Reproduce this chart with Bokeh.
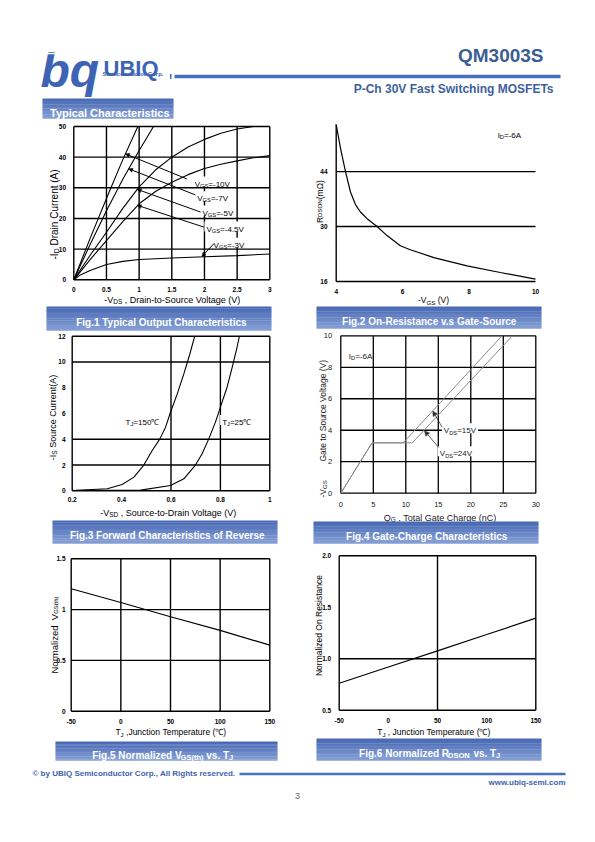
import math
from bokeh.plotting import figure
from bokeh.models import Range1d, Arrow, NormalHead
from bokeh.embed import file_html
from bokeh.resources import INLINE
from bokeh.core.properties import value

# ================= chart data =================
# Fig.1 Typical output characteristics: -VDS (V) -> -ID (A)
fig1_vds_10v = [0, 0.25, 0.5, 0.75, 0.98]
fig1_id_10v = [0, 13.5, 26.5, 39.2, 50.0]
fig1_vds_7v = [0, 0.25, 0.5, 0.75, 1.0, 1.22]
fig1_id_7v = [0, 11.5, 22.5, 32.8, 42.2, 50.0]
fig1_vds_5v = [0, 0.25, 0.5, 0.75, 1.0, 1.25, 1.5, 1.75, 2.0, 2.25, 2.5, 2.75]
fig1_id_5v = [0, 8.0, 15.5, 23.3, 30.3, 35.8, 40.0, 43.3, 45.8, 47.8, 49.2, 50.0]
fig1_vds_45v = [0, 0.25, 0.5, 0.75, 1.0, 1.25, 1.5, 1.75, 2.0, 2.25, 2.5, 2.75, 3.0]
fig1_id_45v = [0, 6.6, 12.8, 19.0, 24.8, 28.8, 31.8, 34.3, 36.3, 37.7, 38.8, 39.8, 40.5]
fig1_vds_3v = [0, 0.1, 0.25, 0.5, 0.75, 1.0, 1.5, 2.0, 2.5, 3.0]
fig1_id_3v = [0, 1.6, 3.0, 5.0, 6.0, 6.6, 7.1, 7.5, 7.9, 8.4]
fig1_label_vgs = ["=-10V", "=-7V", "=-5V", "=-4.5V", "=-3V"]
fig1_label_x = [1.85, 1.89, 1.97, 2.03, 2.14]
fig1_label_y = [32.1, 27.3, 22.6, 17.4, 12.1]
fig1_ptr_x0 = [1.73, 1.86, 1.94, 1.99, 2.14]
fig1_ptr_y0 = [32.9, 27.7, 22.1, 17.2, 11.7]
fig1_ptr_x1 = [0.79, 0.84, 0.97, 0.97, 1.96]
fig1_ptr_y1 = [41.1, 36.2, 29.5, 24.3, 7.6]
fig1_xticks = [0, 0.5, 1, 1.5, 2, 2.5, 3]
fig1_xlabels = ["0", "0.5", "1", "1.5", "2", "2.5", "3"]
fig1_yticks = [0, 10, 20, 30, 40, 50]
fig1_ylabels = ["0", "10", "20", "30", "40", "50"]

# Fig.2 On-resistance vs gate-source voltage: -VGS (V) -> RDSON (mOhm)
fig2_vgs = [4.0, 4.13, 4.28, 4.43, 4.58, 4.73, 4.93, 5.23, 5.53, 5.93, 6.23, 6.94, 7.94, 8.94, 10.0]
fig2_rdson = [56.0, 49.9, 44.0, 38.8, 35.6, 33.7, 32.0, 30.0, 27.7, 25.1, 24.1, 22.1, 20.0, 18.3, 16.6]
fig2_note_x = 8.86
fig2_note_y = 54.0
fig2_xticks = [4, 6, 8, 10]
fig2_xlabels = ["4", "6", "8", "10"]
fig2_yticks = [16, 30, 44]
fig2_ylabels = ["16", "30", "44"]

# Fig.3 Forward characteristics of reverse diode: -VSD (V) -> -IS (A)
fig3_vsd_150c = [0.2, 0.342, 0.402, 0.45, 0.49, 0.524, 0.555, 0.578, 0.598, 0.625, 0.652, 0.676, 0.696]
fig3_is_150c = [0.02, 0.16, 0.49, 1.06, 2.0, 3.13, 4.03, 4.94, 6.1, 7.5, 9.07, 10.6, 12.0]
fig3_vsd_25c = [0.2, 0.477, 0.598, 0.652, 0.699, 0.726, 0.753, 0.78, 0.8, 0.827, 0.848, 0.868, 0.877]
fig3_is_25c = [0.02, 0.05, 0.41, 0.93, 2.0, 2.87, 4.03, 5.33, 6.5, 8.04, 9.6, 11.2, 12.0]
fig3_label_tj = ["=150\u2103", "=25\u2103"]
fig3_label_x = [0.416, 0.807]
fig3_label_y = [5.5, 5.5]
fig3_xticks = [0.2, 0.4, 0.6, 0.8, 1.0]
fig3_xlabels = ["0.2", "0.4", "0.6", "0.8", "1"]
fig3_yticks = [0, 2, 4, 6, 8, 10, 12]
fig3_ylabels = ["0", "2", "4", "6", "8", "10", "12"]

# Fig.4 Gate charge: QG (nC) -> -VGS (V)
fig4_qg_15v = [0, 4.8, 9.6, 24.8]
fig4_vgs_15v = [0, 3.2, 3.2, 10.0]
fig4_qg_24v = [0, 4.8, 11.0, 26.4]
fig4_vgs_24v = [0, 3.2, 3.2, 10.0]
fig4_label_vds = ["=15V", "=24V"]
fig4_label_x = [15.85, 15.23]
fig4_label_y = [4.13, 2.67]
fig4_ptr_x0 = [15.6, 15.08]
fig4_ptr_y0 = [4.19, 2.9]
fig4_ptr_x1 = [14.15, 12.87]
fig4_ptr_y1 = [5.22, 3.96]
fig4_note_x = 1.23
fig4_note_y = 8.86
fig4_xticks = [0, 5, 10, 15, 20, 25, 30]
fig4_xlabels = ["0", "5", "10", "15", "20", "25", "30"]
fig4_yticks = [0, 2, 4, 6, 8, 10]
fig4_ylabels = ["0", "2", "4", "6", "8", "10"]

# Fig.5 Normalized VGS(th) vs TJ
fig5_tj = [-50, 0, 50, 100, 150]
fig5_vth = [1.205, 1.07, 0.93, 0.795, 0.65]
fig5_xticks = [-50, 0, 50, 100, 150]
fig5_xlabels = ["-50", "0", "50", "100", "150"]
fig5_yticks = [0, 0.5, 1.0, 1.5]
fig5_ylabels = ["0", "0.5", "1", "1.5"]

# Fig.6 Normalized RDSON vs TJ
fig6_tj = [-50, 0, 50, 100, 150]
fig6_rdson = [0.762, 0.92, 1.077, 1.235, 1.394]
fig6_xticks = [-50, 0, 50, 100, 150]
fig6_xlabels = ["-50", "0", "50", "100", "150"]
fig6_yticks = [0.5, 1.0, 1.5, 2.0]
fig6_ylabels = ["0.5", "1.0", "1.5", "2.0"]

# ================= page setup =================
MARGIN = 0          # Bokeh's page template removes the body margin
W, H = 595, 830
FONT = "Liberation Sans"
BLUE = "#4a6fbe"
TXTBLUE = "#3d5f9e"
NB = "\u00a0"

p = figure(width=W, height=H, x_range=Range1d(MARGIN, MARGIN + W),
           y_range=Range1d(-(MARGIN + H), -MARGIN),
           output_backend="svg", toolbar_location=None,
           x_axis_location=None, y_axis_location=None, min_border=0)
p.outline_line_color = None
p.grid.visible = False
p.background_fill_color = "white"
p.border_fill_color = "white"


def Y(py):
    return -py


scales = {None: (1.0, 1.0)}


def add_chart(name, box, xr, yr):
    l, t, r, b = box
    kx = (r - l) / (xr[1] - xr[0])
    ky = (b - t) / (yr[1] - yr[0])
    xs = xr[0] - (l - MARGIN) / kx
    ys = yr[0] - ((MARGIN + H) - b) / ky
    p.extra_x_ranges[name] = Range1d(xs, xs + W / kx)
    p.extra_y_ranges[name] = Range1d(ys, ys + H / ky)
    scales[name] = (kx, ky)


def rk(name):
    return {} if name is None else dict(x_range_name=name, y_range_name=name)


_CW = {' ': .278, NB: .278, '-': .333, '=': .584, '(': .333, ')': .333, ',': .278, '.': .278,
       '\u2103': 1.0, '\u03a9': .768}
for c in "0123456789":
    _CW[c] = .556
_CW.update(dict(A=.667, B=.667, C=.722, D=.722, E=.667, F=.611, G=.778, H=.722, I=.278,
                J=.5, K=.667, L=.556, M=.833, N=.722, O=.778, P=.667, Q=.778, R=.722,
                S=.667, T=.611, U=.722, V=.667, W=.944, X=.667, Y=.667, Z=.611))
_CW.update(dict(a=.556, b=.556, c=.5, d=.556, e=.556, f=.278, g=.556, h=.556, i=.222,
                j=.222, k=.5, l=.222, m=.833, n=.556, o=.556, p=.556, q=.556, r=.333,
                s=.5, t=.278, u=.556, v=.5, w=.722, x=.5, y=.5, z=.5))


def tw(s, size, bold=False):
    return sum(_CW.get(c, .556) for c in s) * size * (1.04 if bold else 1.0)


def txt(x, y, s, size, name=None, align="left", baseline="middle", color="black",
        style="normal", angle=0.0, font=FONT):
    p.text(x=[x], y=[y], text=[s], text_font=value(font), text_font_size=f"{size}px",
           text_align=align, text_baseline=baseline, text_color=color,
           text_font_style=style, angle=angle, **rk(name))


def rich(parts, x, y, size, name=None, align="left", vertical=False, color="black",
         bold=False, bg=False, sub_scale=0.72, sub_drop=0.2):
    parts = [(t.replace(" ", NB), k) for t, k in parts]
    kx, ky = scales[name]
    sizes = [size * (sub_scale if k else 1.0) for _, k in parts]
    widths = [tw(t, s, bold) for (t, _), s in zip(parts, sizes)]
    total = sum(widths)
    pos = {"left": 0.0, "center": -total / 2.0, "right": -total}[align]
    if bg:
        p.quad(left=[x + (pos - 2) / kx], right=[x + (pos + total + 2) / kx],
               top=[y + 0.62 * size / ky], bottom=[y - 0.62 * size / ky],
               fill_color="white", line_color=None, **rk(name))
    style = "bold" if bold else "normal"
    for (t, k), s, w in zip(parts, sizes, widths):
        drop = 0.35 * size + (sub_drop * size if k == 1 else 0.0)
        if vertical:
            px, py, ang = x + drop / kx, y + pos / ky, math.pi / 2
        else:
            px, py, ang = x + pos / kx, y - drop / ky, 0.0
        txt(px, py, t, s, name, "left", "alphabetic", color, style, ang)
        pos += w


def banner(box, parts, cx, cy, size):
    l, t, r, b = box
    n = 14
    c0, c1 = (72, 105, 180), (132, 158, 213)
    lefts, rights, tops, bots, cols = [], [], [], [], []
    for i in range(n):
        f = i / (n - 1)
        col = tuple(int(round(c0[j] + (c1[j] - c0[j]) * f)) for j in range(3))
        lefts.append(l)
        rights.append(r)
        tops.append(Y(t + (b - t) * i / n))
        bots.append(Y(t + (b - t) * (i + 1) / n) - 0.3)
        cols.append("#%02x%02x%02x" % col)
    p.quad(left=lefts, right=rights, top=tops, bottom=bots, fill_color=cols, line_color=None)
    rich(parts, cx, Y(cy), size, None, "center", color="white", bold=True, sub_scale=0.75)


def chart_lines(name, xr, yr, vgrid, hgrid, sides="lbtr", lw=1.3, color="black"):
    x0s, y0s, x1s, y1s = [], [], [], []
    for v in vgrid:
        x0s.append(v); y0s.append(yr[0]); x1s.append(v); y1s.append(yr[1])
    for h in hgrid:
        x0s.append(xr[0]); y0s.append(h); x1s.append(xr[1]); y1s.append(h)
    if "l" in sides:
        x0s.append(xr[0]); y0s.append(yr[0]); x1s.append(xr[0]); y1s.append(yr[1])
    if "r" in sides:
        x0s.append(xr[1]); y0s.append(yr[0]); x1s.append(xr[1]); y1s.append(yr[1])
    if "b" in sides:
        x0s.append(xr[0]); y0s.append(yr[0]); x1s.append(xr[1]); y1s.append(yr[0])
    if "t" in sides:
        x0s.append(xr[0]); y0s.append(yr[1]); x1s.append(xr[1]); y1s.append(yr[1])
    p.segment(x0=x0s, y0=y0s, x1=x1s, y1=y1s, line_color=color, line_width=lw, **rk(name))


def ticks(name, xr, yr, xt, xl, yt, yl, xoff, yoff, size, style="bold", color="black"):
    kx, ky = scales[name]
    p.text(x=xt, y=[yr[0] - xoff / ky] * len(xt), text=xl, text_font=value(FONT),
           text_font_size=f"{size}px", text_align="center", text_baseline="middle",
           text_color=color, text_font_style=style, **rk(name))
    p.text(x=[xr[0] - yoff / kx] * len(yt), y=yt, text=yl, text_font=value(FONT),
           text_font_size=f"{size}px", text_align="right", text_baseline="middle",
           text_color=color, text_font_style=style, **rk(name))


def pointers(name, xs0, ys0, xs1, ys1, head, lw=1.0, color="black"):
    for a, b, c, d in zip(xs0, ys0, xs1, ys1):
        p.add_layout(Arrow(end=NormalHead(size=head, fill_color=color, line_color=color,
                                          line_width=0.5),
                           x_start=a, y_start=b, x_end=c, y_end=d, line_color=color,
                           line_width=lw, **rk(name)))


# ================= header =================
txt(40, Y(70), "bq", 48, style="bold italic", color="#3d64b4")
p.segment(x0=[41], y0=[Y(53)], x1=[100], y1=[Y(53)], line_color="white", line_width=1.6)
txt(103, Y(67.5), "UBIQ", 22, baseline="alphabetic", style="bold", color="#3d64b4")
txt(102, Y(73), "Semiconductor" + NB + "Corp.", 6, style="bold", color="#3d64b4")
p.quad(left=[169.5], right=[171], top=[Y(73.5)], bottom=[Y(78.5)], fill_color=BLUE, line_color=None)
p.segment(x0=[174], y0=[Y(76)], x1=[560], y1=[Y(76)], line_color=BLUE, line_width=3.5)
txt(543, Y(55), "QM3003S", 19, align="right", style="bold", color="#3c5d92")
txt(553, Y(88), "P-Ch 30V Fast Switching MOSFETs", 12, align="right", style="bold", color=TXTBLUE)
banner((42, 98, 173, 118), [("Typical Characteristics", 0)], 107, 108.5, 11)

# ================= Fig.1 =================
F1X, F1Y = (0, 3), (0, 50)
add_chart("f1", (73.3, 126, 269.3, 279.3), F1X, F1Y)
chart_lines("f1", F1X, F1Y, [0.5, 1, 1.5, 2, 2.5], [10, 20, 30, 40], lw=1.4)
for xs, ys in [(fig1_vds_10v, fig1_id_10v), (fig1_vds_7v, fig1_id_7v),
               (fig1_vds_5v, fig1_id_5v), (fig1_vds_45v, fig1_id_45v),
               (fig1_vds_3v, fig1_id_3v)]:
    p.line(xs, ys, line_color="black", line_width=1.1, **rk("f1"))
for lab, lx, ly in zip(fig1_label_vgs, fig1_label_x, fig1_label_y):
    rich([("V", 0), ("GS", 1), (lab, 0)], lx, ly, 8, "f1", bg=True)
pointers("f1", fig1_ptr_x0, fig1_ptr_y0, fig1_ptr_x1, fig1_ptr_y1, 4)
ticks("f1", F1X, F1Y, fig1_xticks, fig1_xlabels, fig1_yticks, fig1_ylabels, 9.7, 7.8, 6.5)
rich([("-V", 0), ("DS", 1), (" , Drain-to-Source Voltage (V)", 0)], 172, Y(296.5), 9, None, "center")
rich([("-I", 0), ("D", 1), (" Drain Current (A)", 0)], 50.5, Y(214), 10, None, "center", vertical=True)
banner((46, 306, 271, 330), [("Fig.1 Typical Output Characteristics", 0)], 158, 318, 10)

# ================= Fig.2 =================
F2X, F2Y = (4, 10), (16, 56)
add_chart("f2", (335.7, 124, 535, 281), F2X, F2Y)
chart_lines("f2", F2X, F2Y, [], [30, 44], sides="lb", lw=1.4)
p.line(fig2_vgs, fig2_rdson, line_color="black", line_width=1.2, **rk("f2"))
rich([("I", 0), ("D", 1), ("=-6A", 0)], fig2_note_x, fig2_note_y, 8, "f2")
ticks("f2", F2X, F2Y, fig2_xticks, fig2_xlabels, fig2_yticks, fig2_ylabels, 10, 8.7, 6.5)
rich([("-V", 0), ("GS", 1), (" (V)", 0)], 433, Y(297), 8.5, None, "center")
rich([("R", 0), ("DSON", 2), ("(m\u03a9)", 0)], 316.5, Y(201), 8.5, None, "center", vertical=True)
banner((316, 306, 541, 328), [("Fig.2 On-Resistance v.s Gate-Source", 0)], 428, 317, 10)

# ================= Fig.3 =================
F3X, F3Y = (0.2, 1.0), (0, 12)
add_chart("f3", (71.7, 335.7, 269.3, 490.3), F3X, F3Y)
chart_lines("f3", F3X, F3Y, [0.6, 0.8], [2, 4, 10], lw=1.4)
p.line(fig3_vsd_150c, fig3_is_150c, line_color="black", line_width=1.1, **rk("f3"))
p.line(fig3_vsd_25c, fig3_is_25c, line_color="black", line_width=1.1, **rk("f3"))
for lab, lx, ly in zip(fig3_label_tj, fig3_label_x, fig3_label_y):
    rich([("T", 0), ("J", 1), (lab, 0)], lx, ly, 8, "f3", bg=True)
ticks("f3", F3X, F3Y, fig3_xticks, fig3_xlabels, fig3_yticks, fig3_ylabels, 8.7, 6.7, 6.5)
rich([("-V", 0), ("SD", 1), (" , Source-to-Drain Voltage (V)", 0)], 168, Y(509), 9, None, "center")
rich([("-I", 0), ("S", 1), (" Source Current(A)", 0)], 49, Y(417), 9, None, "center", vertical=True)
banner((52, 520, 277, 543), [("Fig.3 Forward Characteristics of Reverse", 0)], 164, 531.5, 10)

# ================= Fig.4 =================
F4X, F4Y = (0, 30), (0, 10)
add_chart("f4", (340.3, 335.3, 535.3, 492.7), F4X, F4Y)
chart_lines("f4", F4X, F4Y, [5, 10, 15, 20, 25], [2, 4, 6, 8], lw=1.3)
p.line(fig4_qg_15v, fig4_vgs_15v, line_color="#8a8a8a", line_width=1.0, **rk("f4"))
p.line(fig4_qg_24v, fig4_vgs_24v, line_color="#8a8a8a", line_width=1.0, **rk("f4"))
for lab, lx, ly in zip(fig4_label_vds, fig4_label_x, fig4_label_y):
    rich([("V", 0), ("DS", 1), (lab, 0)], lx, ly, 8, "f4", bg=True, color="#222222")
pointers("f4", fig4_ptr_x0, fig4_ptr_y0, fig4_ptr_x1, fig4_ptr_y1, 5, lw=0.8, color="#333333")
rich([("I", 0), ("D", 1), ("=-6A", 0)], fig4_note_x, fig4_note_y, 8, "f4", color="#222222")
ticks("f4", F4X, F4Y, fig4_xticks, fig4_xlabels, fig4_yticks, fig4_ylabels, 11.3, 8.6, 7.5,
      style="normal", color="#222222")
rich([("Q", 0), ("G", 1), (" , Total Gate Charge (nC)", 0)], 440, Y(514), 9, None, "center",
     color="#222222")
rich([("-V", 0), ("GS", 1)], 319.5, Y(497), 8.5, None, "left", vertical=True, color="#222222")
rich([("Gate to Source Voltage (V)", 0)], 319.5, Y(461), 8.5, None, "left", vertical=True,
     color="#222222")
banner((313, 521, 538, 543), [("Fig.4 Gate-Charge Characteristics", 0)], 424.5, 532, 10)

# ================= Fig.5 =================
F5X, F5Y = (-50, 150), (0, 1.5)
add_chart("f5", (70.7, 558.3, 269.3, 710.7), F5X, F5Y)
chart_lines("f5", F5X, F5Y, [0, 50, 100], [0.5, 1.0], lw=1.4)
p.line(fig5_tj, fig5_vth, line_color="black", line_width=1.2, **rk("f5"))
ticks("f5", F5X, F5Y, fig5_xticks, fig5_xlabels, fig5_yticks, fig5_ylabels, 10, 5.7, 6.5)
rich([("T", 0), ("J", 1), (" ,Junction Temperature (\u2103)", 0)], 171, Y(729), 8.5, None, "center")
rich([("Normalized  V", 0), ("GS(th)", 1)], 50.5, Y(634.5), 9.5, None, "center", vertical=True,
     sub_scale=0.62)
banner((55, 741, 277, 760), [("Fig.5 Normalized V", 0), ("GS(th)", 1), (" vs. T", 0), ("J", 1)],
       162, 751, 10)

# ================= Fig.6 =================
F6X, F6Y = (-50, 150), (0.5, 2.0)
add_chart("f6", (338.7, 555.3, 535.3, 709.7), F6X, F6Y)
chart_lines("f6", F6X, F6Y, [50], [1.0], lw=1.4)
p.line(fig6_tj, fig6_rdson, line_color="black", line_width=1.2, **rk("f6"))
ticks("f6", F6X, F6Y, fig6_xticks, fig6_xlabels, fig6_yticks, fig6_ylabels, 10, 8, 6.5)
rich([("T", 0), ("J", 1), (" , Junction Temperature (\u2103)", 0)], 434, Y(729), 8.5, None, "center")
rich([("Normalized On Resistance", 0)], 315.5, Y(625), 8.5, None, "center", vertical=True)
banner((316, 738, 541, 760), [("Fig.6 Normalized R", 0), ("DSON", 1), (" vs. T", 0), ("J", 1)],
       429, 749, 10)

# ================= footer =================
txt(32, Y(773), "\u00a9 by UBIQ Semiconductor Corp., All Rights reserved.", 8, style="bold",
    color="#3f5fae")
p.segment(x0=[239], y0=[Y(773.5)], x1=[565], y1=[Y(773.5)], line_color=BLUE, line_width=2.5)
txt(565, Y(782), "www.ubiq-semi.com", 8, align="right", style="bold", color="#3f5fae")
txt(297, Y(795), "3", 9, align="center", color="#666666")

open("out.html", "w").write(file_html(p, INLINE))
